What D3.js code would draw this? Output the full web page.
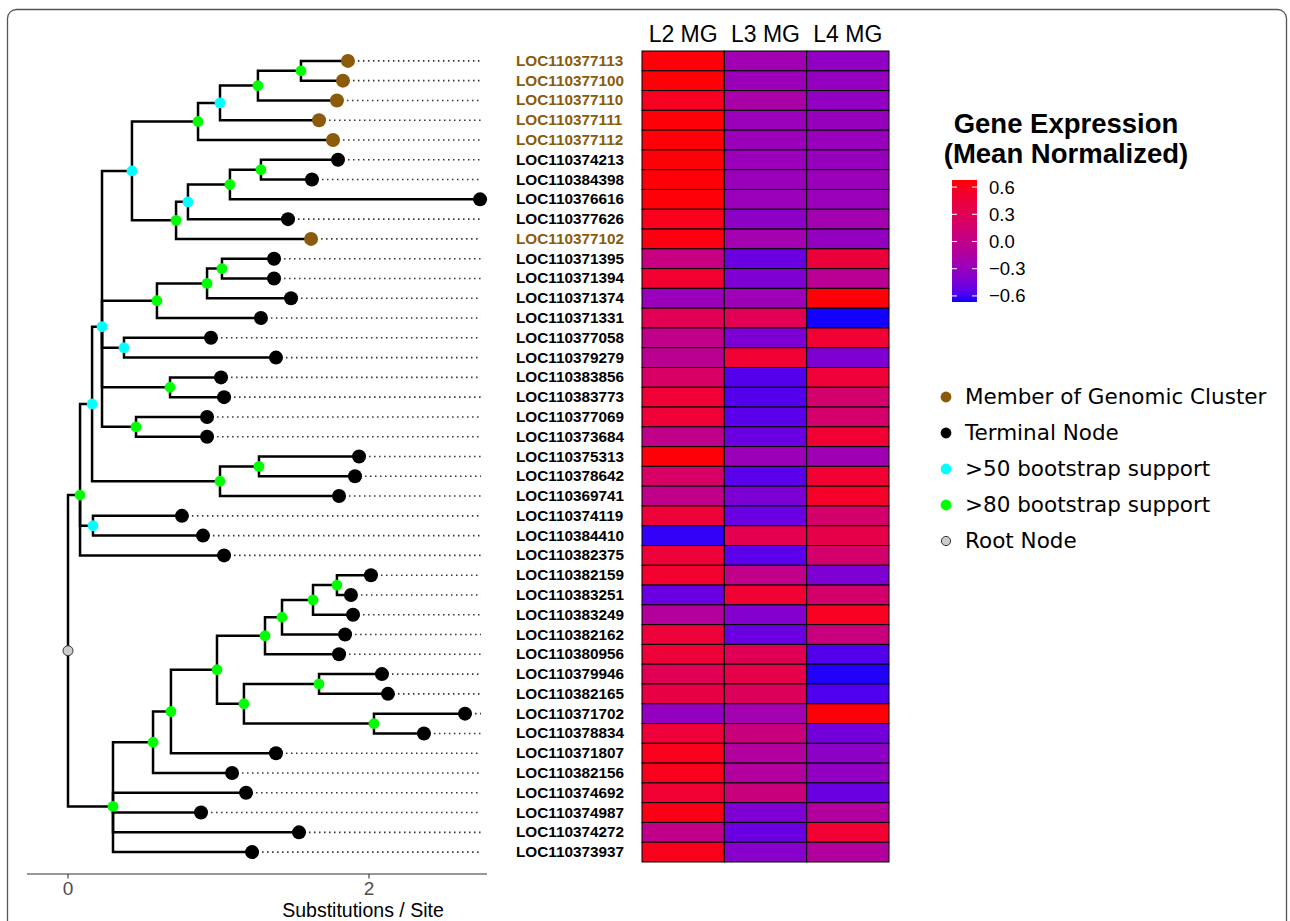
<!DOCTYPE html>
<html>
<head>
<meta charset="utf-8">
<script src="https://cdn.jsdelivr.net/npm/d3@7"></script>
<style>
  body { margin: 0; background: #fff; }
  svg { display: block; }
</style>
</head>
<body>
<svg width="1290" height="921"></svg>
<script>
// tree: [node, parent, distance from root (subst/site), support]
const treeNodes = [
  ["root", "", 0, "root"],
  ["T", "root", 0.08, "80"],
  ["Q", "T", 0.16, "50"],
  ["M", "Q", 0.226, "50"],
  ["E", "M", 0.425, "50"],
  ["D", "E", 0.864, "80"],
  ["C", "D", 1.01, "50"],
  ["B", "C", 1.262, "80"],
  ["A", "B", 1.548, "80"],
  ["LOC110377113", "A", 1.860, ""],
  ["LOC110377100", "A", 1.827, ""],
  ["LOC110377110", "B", 1.787, ""],
  ["LOC110377111", "C", 1.668, ""],
  ["LOC110377112", "D", 1.761, ""],
  ["F", "E", 0.718, "80"],
  ["G", "F", 0.797, "50"],
  ["H", "G", 1.076, "80"],
  ["I", "H", 1.282, "80"],
  ["LOC110374213", "I", 1.794, ""],
  ["LOC110384398", "I", 1.621, ""],
  ["LOC110376616", "H", 2.738, ""],
  ["LOC110377626", "G", 1.462, ""],
  ["LOC110377102", "F", 1.615, ""],
  ["L", "M", 0.591, "80"],
  ["K", "L", 0.924, "80"],
  ["J", "K", 1.023, "80"],
  ["LOC110371395", "J", 1.369, ""],
  ["LOC110371394", "J", 1.369, ""],
  ["LOC110371374", "K", 1.482, ""],
  ["LOC110371331", "L", 1.282, ""],
  ["N", "M", 0.372, "50"],
  ["LOC110377058", "N", 0.950, ""],
  ["LOC110379279", "N", 1.382, ""],
  ["O", "M", 0.678, "80"],
  ["LOC110383856", "O", 1.017, ""],
  ["LOC110383773", "O", 1.037, ""],
  ["P", "M", 0.452, "80"],
  ["LOC110377069", "P", 0.924, ""],
  ["LOC110373684", "P", 0.924, ""],
  ["R", "Q", 1.010, "80"],
  ["S", "R", 1.269, "80"],
  ["LOC110375313", "S", 1.934, ""],
  ["LOC110378642", "S", 1.907, ""],
  ["LOC110369741", "R", 1.801, ""],
  ["U", "T", 0.166, "50"],
  ["LOC110374119", "U", 0.757, ""],
  ["LOC110384410", "U", 0.897, ""],
  ["LOC110382375", "T", 1.037, ""],
  ["V", "root", 0.299, "80"],
  ["W", "V", 0.565, "80"],
  ["X", "W", 0.684, "80"],
  ["Y", "X", 0.990, "80"],
  ["Z", "Y", 1.309, "80"],
  ["AD", "Z", 1.422, "80"],
  ["AE", "AD", 1.628, "80"],
  ["AF", "AE", 1.787, "80"],
  ["LOC110382159", "AF", 2.013, ""],
  ["LOC110383251", "AF", 1.880, ""],
  ["LOC110383249", "AE", 1.894, ""],
  ["LOC110382162", "AD", 1.841, ""],
  ["LOC110380956", "Z", 1.801, ""],
  ["AA", "Y", 1.169, "80"],
  ["AB", "AA", 1.668, "80"],
  ["LOC110379946", "AB", 2.086, ""],
  ["LOC110382165", "AB", 2.126, ""],
  ["AC", "AA", 2.033, "80"],
  ["LOC110371702", "AC", 2.638, ""],
  ["LOC110378834", "AC", 2.365, ""],
  ["LOC110371807", "X", 1.382, ""],
  ["LOC110382156", "W", 1.090, ""],
  ["LOC110374692", "V", 1.183, ""],
  ["LOC110374987", "V", 0.884, ""],
  ["LOC110374272", "V", 1.535, ""],
  ["LOC110373937", "V", 1.223, ""]
];

const genes = ["LOC110377113","LOC110377100","LOC110377110","LOC110377111","LOC110377112",
  "LOC110374213","LOC110384398","LOC110376616","LOC110377626","LOC110377102",
  "LOC110371395","LOC110371394","LOC110371374","LOC110371331","LOC110377058",
  "LOC110379279","LOC110383856","LOC110383773","LOC110377069","LOC110373684",
  "LOC110375313","LOC110378642","LOC110369741","LOC110374119","LOC110384410",
  "LOC110382375","LOC110382159","LOC110383251","LOC110383249","LOC110382162",
  "LOC110380956","LOC110379946","LOC110382165","LOC110371702","LOC110378834",
  "LOC110371807","LOC110382156","LOC110374692","LOC110374987","LOC110374272",
  "LOC110373937"];

const clusterGenes = ["LOC110377113","LOC110377100","LOC110377110","LOC110377111","LOC110377112","LOC110377102"];

const stages = ["L2 MG", "L3 MG", "L4 MG"];

const l2MG = [0.66, 0.66, 0.58, 0.66, 0.66, 0.66, 0.66, 0.66, 0.60, 0.64,
  0.05, 0.52, -0.28, 0.32, 0.0, -0.05, 0.22, 0.48, 0.48, 0.0,
  0.66, 0.22, 0.0, 0.47, -0.63, 0.47, 0.52, -0.50, -0.10, 0.47,
  0.47, 0.30, 0.40, -0.32, 0.47, 0.60, 0.60, 0.50, 0.62, 0.0, 0.60];
const l3MG = [-0.24, -0.27, -0.18, -0.28, -0.28, -0.28, -0.28, -0.28, -0.35, -0.22,
  -0.50, -0.42, -0.26, 0.32, -0.43, 0.50, -0.57, -0.57, -0.55, -0.50,
  -0.27, -0.55, -0.43, -0.50, 0.35, -0.55, 0.0, 0.50, -0.40, -0.50,
  0.30, 0.38, 0.28, -0.22, 0.08, -0.12, -0.12, 0.08, -0.42, -0.50, -0.38];
const l4MG = [-0.33, -0.31, -0.33, -0.30, -0.29, -0.30, -0.28, -0.28, -0.22, -0.32,
  0.45, -0.05, 0.66, -0.66, 0.50, -0.42, 0.48, 0.18, 0.18, 0.50,
  -0.25, 0.50, 0.55, 0.17, 0.38, 0.17, -0.42, 0.17, 0.58, 0.08,
  -0.57, -0.65, -0.58, 0.66, -0.47, -0.35, -0.33, -0.50, -0.12, 0.50, -0.12];

const colorTicks = [0.6, 0.3, 0.0, -0.3, -0.6];
const axisTicks = [0, 2];

const legendItems = ["Member of Genomic Cluster", "Terminal Node", ">50 bootstrap support", ">80 bootstrap support", "Root Node"];
const legendFill = ["#8B5A0B", "#000000", "#00FFFF", "#00FF00", "#CCCCCC"];

// ---------------------------------------------------------------
let svg = d3.select("svg");

// figure frame
svg.append("rect")
  .attr("x", 7.5).attr("y", 9.5)
  .attr("width", 1279).attr("height", 940)
  .attr("rx", 9)
  .attr("fill", "none")
  .attr("stroke", "#555")
  .attr("stroke-width", 1.3);

let xScale = d3.scaleLinear().domain([0, 2]).range([68, 369]);
let yScale = d3.scaleBand().domain(genes).range([51, 862]);
let colScale = d3.scaleBand().domain(stages).range([642, 889]);
let color = d3.scaleLinear()
  .domain([-0.667, 0.678])
  .range(["blue", "red"])
  .interpolate(d3.interpolateLab);

// build tree
let root = d3.stratify()
  .id(d => d[0])
  .parentId(d => d[1] === "" ? null : d[1])(treeNodes);

let half = yScale.bandwidth() / 2;
root.eachAfter(n => {
  n.px = xScale(n.data[2]);
  n.py = n.children ? d3.mean(n.children, c => c.py) : yScale(n.id) + half;
});

let tree = svg.append("g");

// dotted guides tip -> label
tree.selectAll(".guide")
  .data(root.leaves())
  .enter()
  .append("line")
  .attr("x1", d => d.px)
  .attr("x2", 481)
  .attr("y1", d => d.py)
  .attr("y2", d => d.py)
  .attr("stroke", "#333")
  .attr("stroke-width", 1.6)
  .attr("stroke-dasharray", "1.5,3.5");

// branches (elbow)
tree.selectAll(".branch")
  .data(root.descendants().filter(d => d.parent))
  .enter()
  .append("path")
  .attr("d", d => `M${d.parent.px},${d.parent.py}V${d.py}H${d.px}`)
  .attr("fill", "none")
  .attr("stroke", "#000")
  .attr("stroke-width", 2.5)
  .attr("stroke-linejoin", "miter")
  .attr("stroke-linecap", "square");

// internal nodes
tree.selectAll(".inode")
  .data(root.descendants().filter(d => d.children))
  .enter()
  .append("circle")
  .attr("cx", d => d.px)
  .attr("cy", d => d.py)
  .attr("r", d => d.data[3] === "root" ? 5 : 5.4)
  .attr("fill", d => d.data[3] === "root" ? "#CCCCCC" : d.data[3] === "50" ? "#00FFFF" : "#00FF00")
  .attr("stroke", d => d.data[3] === "root" ? "#333" : "none")
  .attr("stroke-width", 1);

// tips
tree.selectAll(".tip")
  .data(root.leaves())
  .enter()
  .append("circle")
  .attr("cx", d => d.px)
  .attr("cy", d => d.py)
  .attr("r", 7)
  .attr("fill", d => clusterGenes.includes(d.id) ? "#8B5A0B" : "#000");

// x axis
let axis = svg.append("g").attr("transform", "translate(0,874)");
axis.append("line")
  .attr("x1", 27).attr("x2", 487)
  .attr("stroke", "#333").attr("stroke-width", 1.1);
axis.selectAll(".tick")
  .data(axisTicks)
  .enter()
  .append("line")
  .attr("x1", d => xScale(d)).attr("x2", d => xScale(d))
  .attr("y1", 0).attr("y2", 4.5)
  .attr("stroke", "#333").attr("stroke-width", 1.1);
axis.selectAll(".ticklab")
  .data(axisTicks)
  .enter()
  .append("text")
  .attr("x", d => xScale(d))
  .attr("y", 21)
  .attr("text-anchor", "middle")
  .attr("font-family", "Liberation Sans, Arial, sans-serif")
  .attr("font-size", "19px")
  .attr("fill", "#4d4d4d")
  .text(d => d);
svg.append("text")
  .attr("x", 363).attr("y", 917)
  .attr("text-anchor", "middle")
  .attr("font-family", "Liberation Sans, Arial, sans-serif")
  .attr("font-size", "19.5px")
  .attr("fill", "#000")
  .text("Substitutions / Site");

// gene labels
svg.selectAll(".glab")
  .data(genes)
  .enter()
  .append("text")
  .attr("x", 516)
  .attr("y", d => yScale(d) + half + 5)
  .attr("font-family", "Liberation Sans, Arial, sans-serif")
  .attr("font-weight", "bold")
  .attr("font-size", "15.3px")
  .attr("fill", d => clusterGenes.includes(d) ? "#8B5A0B" : "#000")
  .text(d => d);

// heatmap
let cells = [];
genes.forEach((g, i) => {
  cells.push({ g: g, s: stages[0], v: l2MG[i] });
  cells.push({ g: g, s: stages[1], v: l3MG[i] });
  cells.push({ g: g, s: stages[2], v: l4MG[i] });
});
svg.selectAll(".cell")
  .data(cells)
  .enter()
  .append("rect")
  .attr("x", d => colScale(d.s))
  .attr("y", d => yScale(d.g))
  .attr("width", colScale.bandwidth())
  .attr("height", yScale.bandwidth())
  .attr("fill", d => color(d.v))
  .attr("stroke", "#000")
  .attr("stroke-width", 1);

svg.selectAll(".colhead")
  .data(stages)
  .enter()
  .append("text")
  .attr("x", d => colScale(d) + colScale.bandwidth() / 2)
  .attr("y", 42)
  .attr("text-anchor", "middle")
  .attr("font-family", "Liberation Sans, Arial, sans-serif")
  .attr("font-size", "23px")
  .attr("fill", "#000")
  .text(d => d);

// colour bar legend
svg.append("text")
  .attr("x", 1066).attr("y", 133)
  .attr("text-anchor", "middle")
  .attr("font-family", "Liberation Sans, Arial, sans-serif")
  .attr("font-weight", "bold")
  .attr("font-size", "27.5px")
  .text("Gene Expression");
svg.append("text")
  .attr("x", 1066).attr("y", 163)
  .attr("text-anchor", "middle")
  .attr("font-family", "Liberation Sans, Arial, sans-serif")
  .attr("font-weight", "bold")
  .attr("font-size", "27.5px")
  .text("(Mean Normalized)");

let barScale = d3.scaleLinear().domain([-0.667, 0.678]).range([302, 180]);
let grad = svg.append("defs").append("linearGradient")
  .attr("id", "cbar")
  .attr("x1", 0).attr("y1", 1).attr("x2", 0).attr("y2", 0);
d3.range(0, 1.0001, 0.05).forEach(t => {
  grad.append("stop")
    .attr("offset", t)
    .attr("stop-color", color(-0.667 + t * (0.678 + 0.667)));
});
svg.append("rect")
  .attr("x", 952).attr("y", 180)
  .attr("width", 25).attr("height", 122)
  .attr("fill", "url(#cbar)");
svg.selectAll(".cbtick")
  .data(colorTicks.flatMap(v => [[v, 952], [v, 972]]))
  .enter()
  .append("line")
  .attr("x1", d => d[1]).attr("x2", d => d[1] + 5)
  .attr("y1", d => barScale(d[0])).attr("y2", d => barScale(d[0]))
  .attr("stroke", "#fff").attr("stroke-width", 1);
svg.selectAll(".cblab")
  .data(colorTicks)
  .enter()
  .append("text")
  .attr("x", 989)
  .attr("y", d => barScale(d) + 6.5)
  .attr("font-family", "Liberation Sans, Arial, sans-serif")
  .attr("font-size", "18.5px")
  .text(d => d3.format(".1f")(d).replace("-", "\u2212"));

// point legend
let legY = d3.scalePoint().domain(legendItems).range([397, 541]);
let leg = svg.append("g");
leg.selectAll("circle")
  .data(legendItems)
  .enter()
  .append("circle")
  .attr("cx", 946)
  .attr("cy", d => legY(d))
  .attr("r", (d, i) => i === 4 ? 4.6 : 5.4)
  .attr("fill", (d, i) => legendFill[i])
  .attr("stroke", (d, i) => i === 4 ? "#333" : "none");
leg.selectAll("text")
  .data(legendItems)
  .enter()
  .append("text")
  .attr("x", 965)
  .attr("y", d => legY(d) + 7)
  .attr("font-family", "DejaVu Sans, sans-serif")
  .attr("font-size", "21.5px")
  .attr("fill", "#000")
  .text(d => d);
</script>
</body>
</html>
